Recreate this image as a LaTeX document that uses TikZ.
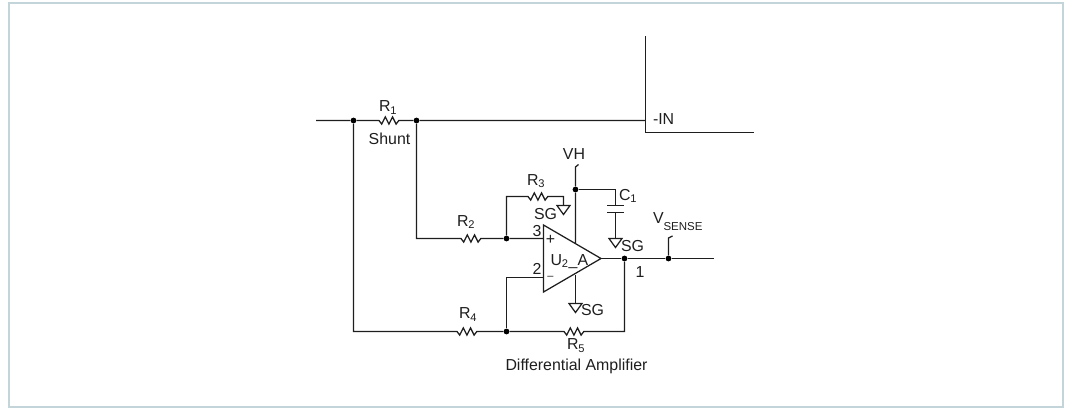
\documentclass[tikz,border=0pt]{standalone}
\usepackage{fontspec}
\usetikzlibrary{calc}
\setmainfont{Liberation Sans}
\definecolor{framec}{HTML}{C4D5DA}
\definecolor{inkc}{HTML}{1E1E1E}
\tikzset{
  wire/.style={draw=inkc,line width=1.25pt},
  lbl/.style={text=inkc,font=\fontsize{15.9}{18}\selectfont,inner sep=0pt,outer sep=0pt},
  dotn/.style={circle,fill=black,inner sep=0pt,minimum size=5.8pt},
  gnd/.style={wire,line join=miter},
  res/.style={to path={-- ++(0,0) -- ++(2,0) -- ++(2.7,3.6) -- ++(3.6,-7.2) -- ++(3.6,7.2) -- ++(3.6,-7.2) -- ++(3.6,7.2) -- ++(2.7,-3.6) -- (\tikztotarget)}}
}
\newcommand{\groundat}[1]{\draw[gnd] (#1) ++(-6.5,0) -- ++(13,0) -- ++(-6.5,9) -- cycle;}
\begin{document}
\begin{tikzpicture}[x=1pt,y=-1pt]
\useasboundingbox (0,0) rectangle (1065,408);
\draw[framec,line width=2pt] (9,2.5) rectangle (1062.5,406.5);

% junctions
\node[dotn] (j1) at (353.5,120.5) {};
\node[dotn] (j2) at (416.5,120.5) {};
\node[dotn] (j3) at (506.5,238.5) {};
\node[dotn] (j4) at (575.5,189.5) {};
\node[dotn] (j5) at (624.5,258.5) {};
\node[dotn] (j6) at (668.5,258.5) {};
\node[dotn] (j7) at (506.5,331.5) {};

% free ends and corners
\coordinate (in) at (316,120.5);
\coordinate (inT) at (645.5,36);
\coordinate (inJ) at (645.5,120.5);
\coordinate (inB) at (645.5,132.5);
\coordinate (inR) at (754,132.5);
\coordinate (r1a) at (377,120.5);
\coordinate (r1b) at (399,120.5);
\coordinate (c2) at (416.5,238.5);
\coordinate (r2a) at (459,238.5);
\coordinate (r2b) at (481,238.5);
\coordinate (c3) at (506.5,196.5);
\coordinate (r3a) at (526,196.5);
\coordinate (r3b) at (548,196.5);
\coordinate (c3r) at (563.5,196.5);
\coordinate (g1) at (563.5,205.5);
\coordinate (plus) at (543.5,238.5);
\coordinate (minus) at (543.5,277.5);
\coordinate (c5) at (506.5,277.5);
\coordinate (oT) at (543.5,225);
\coordinate (oB) at (543.5,292);
\coordinate (oO) at (601,258.5);
\coordinate (vhT) at (575.5,167);
\coordinate (vhK) at (578.5,164.5);
\coordinate (vhB) at (575.5,243);
\coordinate (capC) at (615.5,189.5);
\coordinate (capA) at (615.5,205.5);
\coordinate (capB) at (615.5,212.5);
\coordinate (g2) at (615.5,238.5);
\coordinate (outE) at (714,258.5);
\coordinate (vsT) at (668.5,238);
\coordinate (vsK) at (672.5,236);
\coordinate (c6) at (624.5,331.5);
\coordinate (r5a) at (562,331.5);
\coordinate (r5b) at (584,331.5);
\coordinate (r4a) at (455,331.5);
\coordinate (r4b) at (477,331.5);
\coordinate (c7) at (353.5,331.5);
\coordinate (gT) at (575.5,275);
\coordinate (g3) at (575.5,303.5);

% -IN block
\draw[wire] (inT) -- (inB) -- (inR);
% top rail with shunt
\draw[wire] (in) -- (j1) -- (r1a) to[res] (r1b) -- (j2) -- (inJ);
% R2 branch
\draw[wire] (j2) -- (c2) -- (r2a) to[res] (r2b) -- (j3) -- (plus);
% R3 branch
\draw[wire] (j3) -- (c3) -- (r3a) to[res] (r3b) -- (c3r) -- (g1);
\groundat{g1}
% op amp
\draw[wire,line join=miter] (oT) -- (oO) -- (oB) -- cycle;
% VH
\draw[wire] (vhK) -- (vhT) -- (j4) -- (vhB);
\draw[wire] (j4) -- (capC) -- (capA);
\draw[wire] ($(capA)+(-8.5,0)$) -- ($(capA)+(8.5,0)$);
\draw[wire] ($(capB)+(-8.5,0)$) -- ($(capB)+(8.5,0)$);
\draw[wire] (capB) -- (g2);
\groundat{g2}
% output
\draw[wire] (oO) -- (j5) -- (j6) -- (outE);
\draw[wire] (j6) -- (vsT) -- (vsK);
% feedback
\draw[wire] (j1) -- (c7) -- (r4a) to[res] (r4b) -- (j7) -- (r5a) to[res] (r5b) -- (c6) -- (j5);
\draw[wire] (j7) -- (c5) -- (minus);
% lower SG
\draw[wire] (gT) -- (g3);
\groundat{g3}

% labels
\node[lbl,anchor=west] (lR1) at (379,107.5) {R\textsubscript{1}};
\node[lbl] (lShunt) at (389.5,139) {Shunt};
\node[lbl,anchor=west] (lR2) at (457,222) {R\textsubscript{2}};
\node[lbl,anchor=west] (lR3) at (527,181) {R\textsubscript{3}};
\node[lbl,anchor=west] (lSG1) at (534,214.5) {SG};
\node[lbl] (l3) at (537,231) {3};
\node[lbl] (lp) at (550.5,240) {+};
\node[lbl] (l2) at (537,269) {2};
\node[lbl] (lm) at (550.5,277.5) {\fontsize{11}{11}\selectfont –};
\node[lbl,anchor=west] (lU) at (550.5,261.5) {U\textsubscript{2}\_A};
\node[lbl] (lVH) at (574,154) {VH};
\node[lbl,anchor=west] (lC) at (619,196) {C\textsubscript{1}};
\node[lbl,anchor=west] (lSG2) at (621,246) {SG};
\node[lbl,anchor=west] (lVs) at (653,218.5) {V};
\node[lbl,anchor=west,font=\fontsize{11.5}{13}\selectfont] (lVs2) at (663.5,226.5) {SENSE};
\node[lbl] (l1) at (640,272) {1};
\node[lbl,anchor=west] (lSG3) at (581,310.5) {SG};
\node[lbl,anchor=west] (lR4) at (459,314.5) {R\textsubscript{4}};
\node[lbl,anchor=west] (lR5) at (567,345.5) {R\textsubscript{5}};
\node[lbl] (lDA) at (576.5,366) {Differential Amplifier};
\node[lbl,anchor=west] (lIN) at (653,119) {-IN};
\end{tikzpicture}
\end{document}
